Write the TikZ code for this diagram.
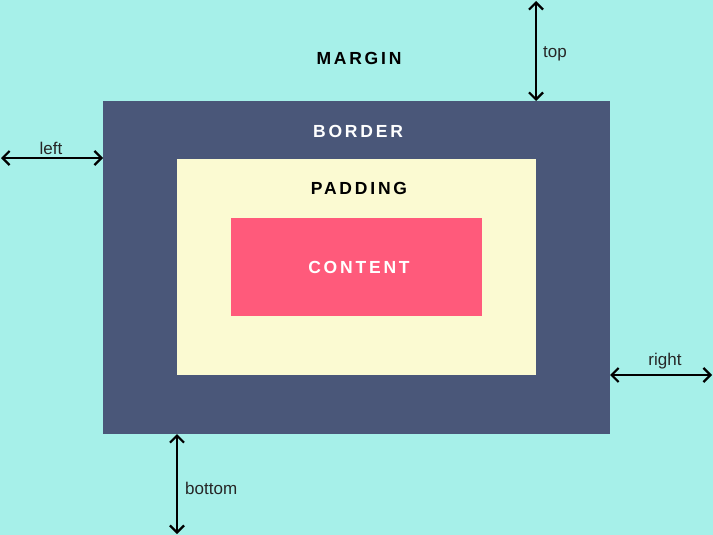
\documentclass[tikz,border=0pt]{standalone}
\usepackage{fontspec}
\setmainfont{Liberation Sans}
\newfontfamily\spacedfont[LetterSpace=16]{Liberation Sans}
\usetikzlibrary{arrows.meta}
\definecolor{bgc}{HTML}{A6F0E9}
\definecolor{borderc}{HTML}{4A5779}
\definecolor{padc}{HTML}{FBFAD2}
\definecolor{contc}{HTML}{FF5A7B}
\begin{document}
\begin{tikzpicture}[x=1pt,y=-1pt,
  title/.style={font=\spacedfont\bfseries\fontsize{17.5}{19}\selectfont, inner sep=0pt},
  lbl/.style={font=\fontsize{17}{19}\selectfont, inner sep=0pt, text=black!85},
  dim/.style={line width=2.2pt, {Straight Barb[length=7pt,width=14pt]}-{Straight Barb[length=7pt,width=14pt]}}]
\fill[bgc] (0,0) rectangle (713,535);
\useasboundingbox (0,0) rectangle (713,535);
\node[fill=borderc, minimum width=507, minimum height=333, inner sep=0pt, anchor=north west] (border) at (103,101) {};
\node[fill=padc, minimum width=359, minimum height=216, inner sep=0pt, anchor=north west] (padding) at (177,159) {};
\node[fill=contc, minimum width=251, minimum height=98, inner sep=0pt, anchor=north west] (content) at (231,218) {};
\node[title] (tmargin) at (359,58) {MARGIN};
\node[title, text=white] (tborder) at (358,131) {BORDER};
\node[title] (tpadding) at (359,188) {PADDING};
\node[title, text=white] (tcontent) at (359,267) {CONTENT};
\coordinate (topA) at (536,1);
\coordinate (topB) at (536,101);
\coordinate (leftA) at (1,158);
\coordinate (leftB) at (103,158);
\coordinate (rightA) at (610,375);
\coordinate (rightB) at (712,375);
\coordinate (botA) at (177,434);
\coordinate (botB) at (177,534);
\draw[dim] (topA) -- (topB);
\draw[dim] (leftA) -- (leftB);
\draw[dim] (rightA) -- (rightB);
\draw[dim] (botA) -- (botB);
\node[lbl, anchor=west] (ltop) at (543,54) {top};
\node[lbl] (lleft) at (51,148) {left};
\node[lbl] (lright) at (665,361) {right};
\node[lbl, anchor=west] (lbottom) at (185,488) {bottom};
\end{tikzpicture}
\end{document}
